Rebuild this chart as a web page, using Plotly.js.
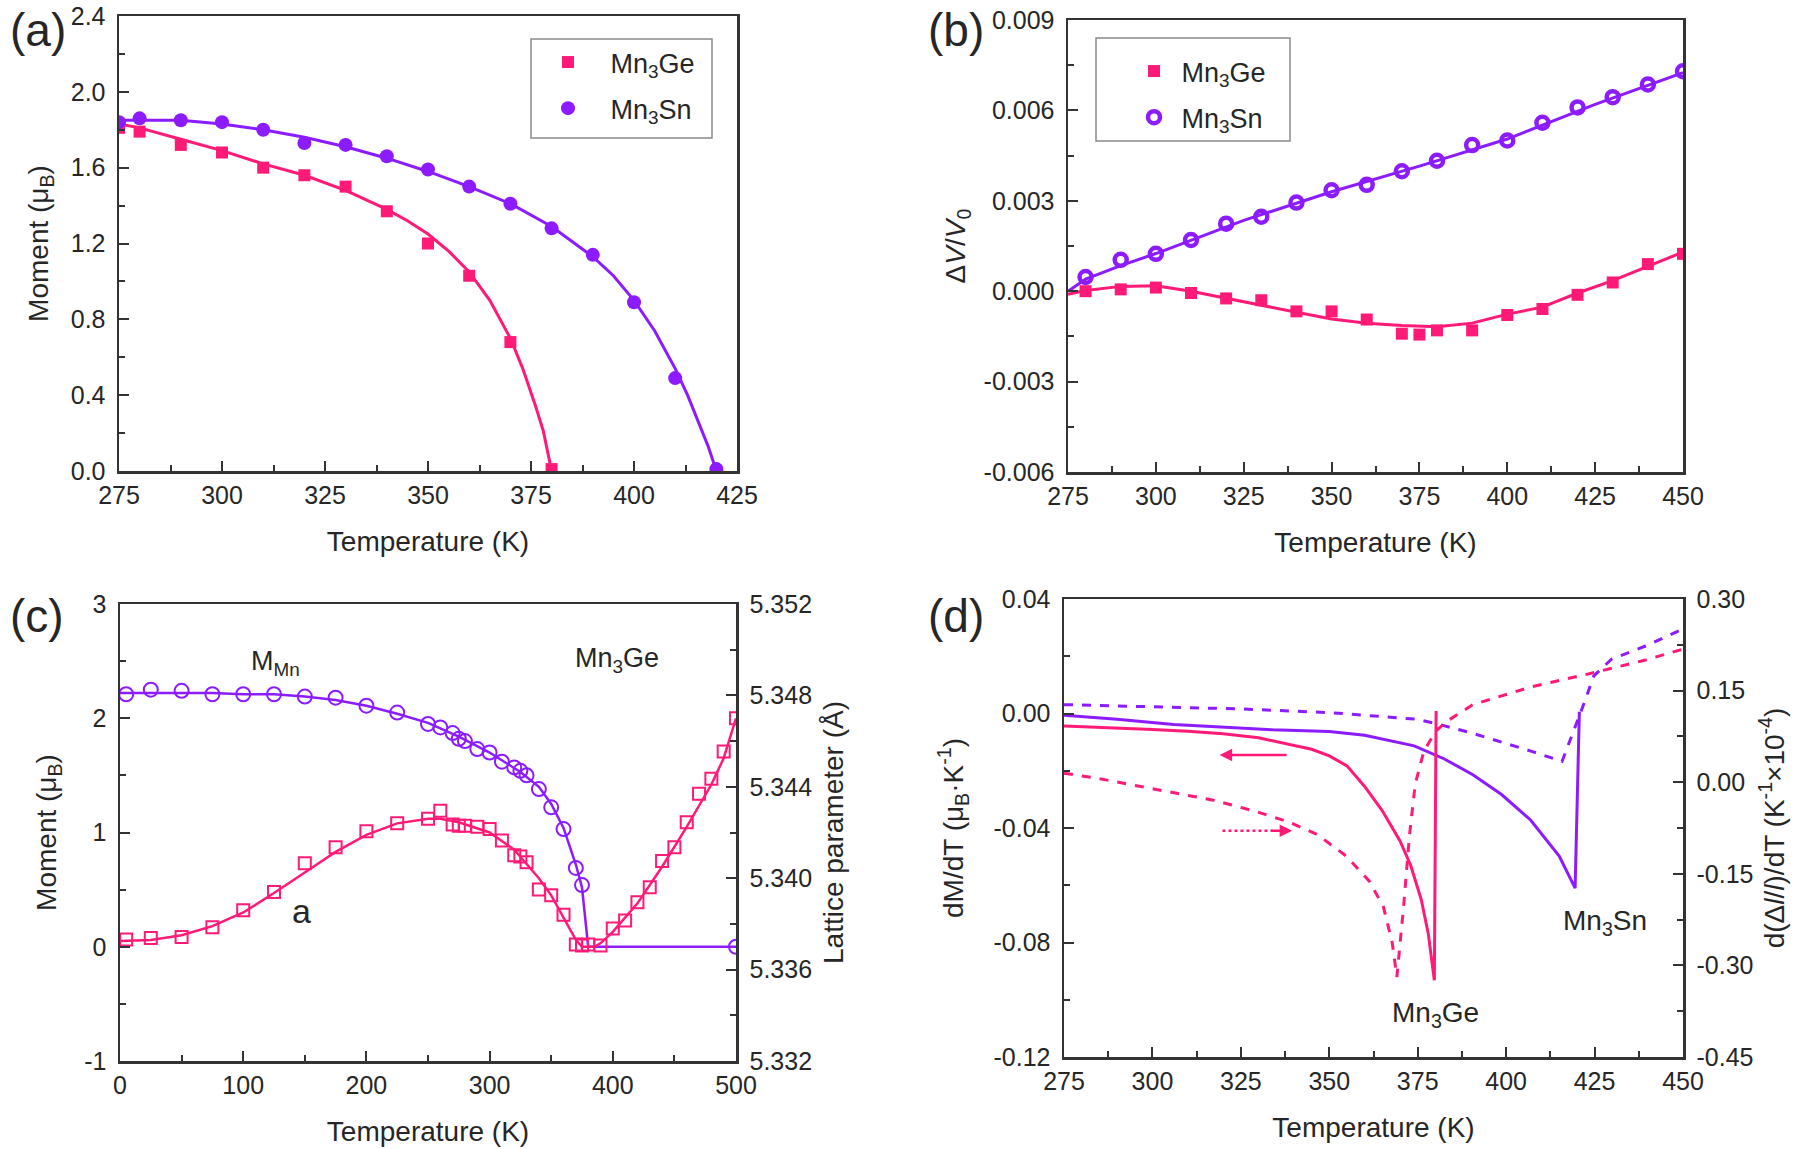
<!DOCTYPE html>
<html><head><meta charset="utf-8">
<script src="https://cdn.plot.ly/plotly-3.0.1.min.js"></script>
<style>html,body{margin:0;padding:0;background:#fff;}#chart{width:1800px;height:1149px;}</style>
</head><body><div id="chart"></div>
<script>
// ---------- Panel (a): moment vs temperature ----------
const aGeT = [275,280,290,300,310,320,330,340,350,360,370,380];
const aGeM = [1.81,1.79,1.72,1.68,1.60,1.56,1.50,1.37,1.20,1.03,0.68,0.01];
const aSnT = [275,280,290,300,310,320,330,340,350,360,370,380,390,400,410,420];
const aSnM = [1.84,1.86,1.85,1.84,1.80,1.73,1.72,1.66,1.59,1.50,1.41,1.28,1.14,0.89,0.49,0.01];
const aGeFitT = [275,280,290,300,310,320,330,340,345,350,355,360,365,370,373,376,378,380];
const aGeFitM = [1.83,1.81,1.75,1.69,1.62,1.56,1.48,1.38,1.32,1.25,1.16,1.05,0.90,0.70,0.54,0.35,0.21,0.0];
const aSnFitT = [275,280,290,300,310,320,330,340,350,360,370,380,390,395,400,405,410,413,416,418,420];
const aSnFitM = [1.85,1.85,1.85,1.83,1.80,1.76,1.71,1.65,1.58,1.50,1.41,1.29,1.13,1.03,0.90,0.74,0.54,0.40,0.24,0.13,0.0];

// ---------- Panel (b): volume change ----------
const bGeT = [280,290,300,310,320,330,340,350,360,370,375,380,390,400,410,420,430,440,450];
const bGeV = [0.00000,0.00006,0.00012,-0.00006,-0.00024,-0.00030,-0.00067,-0.00067,-0.00094,-0.00141,-0.00144,-0.00130,-0.00130,-0.00079,-0.00059,-0.00012,0.00029,0.00090,0.00124];
const bSnT = [280,290,300,310,320,330,340,350,360,370,380,390,400,410,420,430,440,450];
const bSnV = [0.00047,0.00104,0.00124,0.00170,0.00224,0.00247,0.00294,0.00335,0.00353,0.00398,0.00433,0.00485,0.00500,0.00559,0.00610,0.00644,0.00686,0.00730];
const bGeFitT = [275,280,290,300,310,320,330,340,350,360,370,380,390,400,410,420,430,440,450];
const bGeFitV = [-0.00010,0.00002,0.00016,0.00018,0.00000,-0.00024,-0.00047,-0.00070,-0.00092,-0.00106,-0.00114,-0.00118,-0.00106,-0.00076,-0.00053,-0.00006,0.00035,0.00082,0.00130];
const bSnFitT = [275,280,290,300,325,350,375,400,425,450];
const bSnFitV = [0.00000,0.00040,0.00085,0.00125,0.00235,0.00330,0.00415,0.00505,0.00620,0.00725];

// ---------- Panel (c): Mn3Ge moment and lattice parameter ----------
const cMT = [5,25,50,75,100,125,150,175,200,225,250,260,270,275,280,290,300,310,320,325,330,340,350,360,370,375,500];
const cM  = [2.21,2.25,2.24,2.21,2.21,2.21,2.19,2.18,2.11,2.05,1.95,1.92,1.87,1.82,1.80,1.73,1.70,1.62,1.57,1.54,1.50,1.38,1.22,1.03,0.69,0.54,0.00];
const cMFitT = [0,25,50,75,100,125,150,175,200,225,250,275,300,325,340,350,360,370,375,380,500];
const cMFit  = [2.22,2.22,2.22,2.22,2.21,2.21,2.19,2.16,2.11,2.04,1.96,1.84,1.70,1.53,1.40,1.25,1.04,0.72,0.52,0.00,0.00];
const cLT = [5,25,50,75,100,125,150,175,200,225,250,260,270,275,280,290,300,310,320,325,330,340,350,360,370,375,380,390,400,410,420,430,440,450,460,470,480,490,500];
const cL  = [5.33732,5.33738,5.33743,5.33785,5.33860,5.33940,5.34065,5.34135,5.34205,5.34240,5.34260,5.34295,5.34235,5.34230,5.34230,5.34225,5.34215,5.34165,5.34100,5.34095,5.34070,5.33950,5.33925,5.33840,5.33710,5.33705,5.33710,5.33705,5.33780,5.33815,5.33895,5.33960,5.34075,5.34135,5.34245,5.34370,5.34435,5.34555,5.34700];
const cLFitT = [0,25,50,75,100,125,150,175,200,225,250,260,275,300,320,340,350,360,370,375,385,390,400,420,440,460,480,490,500];
const cLFit  = [5.33725,5.33730,5.33750,5.33790,5.33850,5.33935,5.34025,5.34115,5.34190,5.34240,5.34260,5.34260,5.34245,5.34200,5.34125,5.34000,5.33925,5.33830,5.33730,5.33700,5.33700,5.33715,5.33765,5.33890,5.34050,5.34225,5.34410,5.34525,5.34700];

// ---------- Panel (d): derivatives ----------
const dGeT = [275,290,300,310,320,330,340,345,350,355,360,365,370,373,376,378,379.7,380.2];
const dGeV = [-0.0044,-0.0050,-0.0056,-0.0062,-0.0071,-0.0085,-0.0110,-0.0125,-0.0148,-0.0183,-0.0255,-0.0340,-0.0445,-0.0530,-0.0650,-0.0770,-0.0932,0.0009];
const dSnT = [275,290,306,324,334,350,360,374,382.4,390.6,398.7,406.9,415,419.5,420.7];
const dSnV = [-0.0006,-0.0020,-0.0038,-0.0050,-0.0057,-0.0063,-0.0076,-0.0113,-0.0158,-0.0214,-0.0283,-0.0372,-0.0498,-0.0610,0.0006];
const dSnET = [275,300,325,350,375,380.8,390.6,407,415.8,421.5,424.8,429.7,439.4,450];
const dSnE  = [0.127,0.124,0.120,0.114,0.103,0.095,0.080,0.051,0.034,0.121,0.174,0.201,0.223,0.251];
const dGeET = [275,284.8,301,317.3,328.7,338.5,346.6,354.8,361.3,365.3,367.8,369.1,371.0,372.7,374.3,376.7,380,383.3,390.6,407,423,439.4,450];
const dGeE  = [0.0148,0.006,-0.0118,-0.0295,-0.047,-0.065,-0.0856,-0.121,-0.162,-0.204,-0.263,-0.319,-0.204,-0.0856,-0.003,0.050,0.083,0.100,0.127,0.156,0.177,0.200,0.218];

// ---------- tick labels ----------
const aYTickVals = [0,0.4,0.8,1.2,1.6,2.0,2.4];
const aYTickText = ['0.0','0.4','0.8','1.2','1.6','2.0','2.4'];
const bYTickVals = [-0.006,-0.003,0,0.003,0.006,0.009];
const bYTickText = ['-0.006','-0.003','0.000','0.003','0.006','0.009'];
const cYTickVals = [-1,0,1,2,3];
const cYTickText = ['-1','0','1','2','3'];
const cY2TickVals = [5.332,5.336,5.340,5.344,5.348,5.352];
const cY2TickText = ['5.332','5.336','5.340','5.344','5.348','5.352'];
const dYTickVals = [-0.12,-0.08,-0.04,0,0.04];
const dYTickText = ['-0.12','-0.08','-0.04','0.00','0.04'];
const dY2TickVals = [-0.45,-0.30,-0.15,0,0.15,0.30];
const dY2TickText = ['-0.45','-0.30','-0.15','0.00','0.15','0.30'];

const PINK = '#ff1a78';
const PURPLE = '#8c1cff';
const FONT = 'Arial, "Liberation Sans", Helvetica, sans-serif';
const TXT = '#262626';
const W = 1800, H = 1149;
const px = v => v / W;
const py = v => 1 - v / H;

function axis(extra) {
  return Object.assign({
    showline: true, linecolor: '#333', linewidth: 2.5, mirror: true,
    ticks: 'inside', ticklen: 10, tickwidth: 2, tickcolor: '#333',
    showgrid: false, zeroline: false, automargin: false, fixedrange: true,
    ticklabelstandoff: 6,
    tickfont: {family: FONT, size: 25, color: TXT},
    minor: {ticks: 'inside', ticklen: 6, tickwidth: 2, tickcolor: '#333', showgrid: false}
  }, extra);
}
function ttl(text, standoff) {
  return {text: text, standoff: standoff, font: {family: FONT, size: 28, color: TXT}};
}

const traces = [
  // (a)
  {x: aGeFitT, y: aGeFitM, xaxis: 'x', yaxis: 'y', mode: 'lines', line: {color: PINK, width: 3}, showlegend: false, hoverinfo: 'skip'},
  {x: aSnFitT, y: aSnFitM, xaxis: 'x', yaxis: 'y', mode: 'lines', line: {color: PURPLE, width: 3}, showlegend: false, hoverinfo: 'skip'},
  {x: aGeT, y: aGeM, xaxis: 'x', yaxis: 'y', mode: 'markers', name: '\u00a0\u00a0\u00a0Mn<sub>3</sub>Ge', legend: 'legend', legendgroup: 'a1',
   marker: {symbol: 'square', size: 12, color: PINK}},
  {x: aSnT, y: aSnM, xaxis: 'x', yaxis: 'y', mode: 'markers', name: '\u00a0\u00a0\u00a0Mn<sub>3</sub>Sn', legend: 'legend', legendgroup: 'a2',
   marker: {symbol: 'circle', size: 14, color: PURPLE}},
  // (b)
  {x: bGeFitT, y: bGeFitV, xaxis: 'x2', yaxis: 'y2', mode: 'lines', line: {color: PINK, width: 3}, showlegend: false, hoverinfo: 'skip'},
  {x: bSnFitT, y: bSnFitV, xaxis: 'x2', yaxis: 'y2', mode: 'lines', line: {color: PURPLE, width: 3}, showlegend: false, hoverinfo: 'skip'},
  {x: bGeT, y: bGeV, xaxis: 'x2', yaxis: 'y2', mode: 'markers', name: '\u00a0Mn<sub>3</sub>Ge', legend: 'legend2', legendgroup: 'b1',
   marker: {symbol: 'square', size: 12, color: PINK}},
  {x: bSnT, y: bSnV, xaxis: 'x2', yaxis: 'y2', mode: 'markers', name: '\u00a0Mn<sub>3</sub>Sn', legend: 'legend2', legendgroup: 'b2',
   marker: {symbol: 'circle-open', size: 12, color: PURPLE, line: {width: 4.5, color: PURPLE}}},
  // (c)
  {x: cMFitT, y: cMFit, xaxis: 'x3', yaxis: 'y3', mode: 'lines', line: {color: PURPLE, width: 2.5}, showlegend: false, hoverinfo: 'skip'},
  {x: cMT, y: cM, xaxis: 'x3', yaxis: 'y3', mode: 'markers', showlegend: false,
   marker: {symbol: 'circle-open', size: 14, color: PURPLE, line: {width: 2, color: PURPLE}}},
  {x: cLFitT, y: cLFit, xaxis: 'x3', yaxis: 'y4', mode: 'lines', line: {color: PINK, width: 2.5}, showlegend: false, hoverinfo: 'skip'},
  {x: cLT, y: cL, xaxis: 'x3', yaxis: 'y4', mode: 'markers', showlegend: false,
   marker: {symbol: 'square-open', size: 12, color: PINK, line: {width: 2, color: PINK}}},
  // (d)
  {x: dSnET, y: dSnE, xaxis: 'x4', yaxis: 'y6', mode: 'lines', line: {color: PURPLE, width: 3, dash: 'dash'}, showlegend: false, hoverinfo: 'skip'},
  {x: dGeET, y: dGeE, xaxis: 'x4', yaxis: 'y6', mode: 'lines', line: {color: PINK, width: 3, dash: 'dash'}, showlegend: false, hoverinfo: 'skip'},
  {x: dSnT, y: dSnV, xaxis: 'x4', yaxis: 'y5', mode: 'lines', line: {color: PURPLE, width: 3}, showlegend: false, hoverinfo: 'skip'},
  {x: dGeT, y: dGeV, xaxis: 'x4', yaxis: 'y5', mode: 'lines', line: {color: PINK, width: 3}, showlegend: false, hoverinfo: 'skip'}
];

const legendStyle = {
  xanchor: 'left', yanchor: 'top', bgcolor: 'rgba(0,0,0,0)', borderwidth: 0,
  font: {family: FONT, size: 27, color: TXT}, traceorder: 'grouped', tracegroupgap: 8, itemwidth: 30
};

const xMinor = {ticks: 'inside', ticklen: 6, tickwidth: 2, tickcolor: '#333', dtick: 12.5, tick0: 275};

const layout = {
  width: W, height: H,
  margin: {l: 0, r: 0, t: 0, b: 0},
  paper_bgcolor: '#fff', plot_bgcolor: 'rgba(0,0,0,0)',
  font: {family: FONT, color: TXT},
  showlegend: true,
  legend: Object.assign({x: px(548), y: py(38)}, legendStyle),
  legend2: Object.assign({x: px(1134), y: py(47)}, legendStyle),
  // (a)
  xaxis: axis({domain: [px(119), px(737)], anchor: 'y', range: [275, 425], dtick: 25, tick0: 275, ticklabelstandoff: 0,
    minor: xMinor, title: ttl('Temperature (K)', 24)}),
  yaxis: axis({domain: [py(471), py(16)], anchor: 'x', range: [0, 2.4], tickmode: 'array', tickvals: aYTickVals, ticktext: aYTickText,
    minor: {ticks: 'inside', ticklen: 6, tickwidth: 2, tickcolor: '#333', dtick: 0.2, tick0: 0},
    title: ttl('Moment (μ<sub>B</sub>)', 14)}),
  // (b)
  xaxis2: axis({domain: [px(1068), px(1683)], anchor: 'y2', range: [275, 450], dtick: 25, tick0: 275, ticklabelstandoff: 0,
    minor: xMinor, title: ttl('Temperature (K)', 24)}),
  yaxis2: axis({domain: [py(472), py(20)], anchor: 'x2', range: [-0.006, 0.009], tickmode: 'array', tickvals: bYTickVals, ticktext: bYTickText,
    minor: {ticks: 'inside', ticklen: 6, tickwidth: 2, tickcolor: '#333', dtick: 0.0015, tick0: 0},
    title: ttl('Δ<i>V</i>/<i>V</i><sub>0</sub>', 10)}),
  // (c)
  xaxis3: axis({domain: [px(120), px(736)], anchor: 'y3', range: [0, 500], dtick: 100, tick0: 0, ticklabelstandoff: 0,
    minor: {ticks: 'inside', ticklen: 6, tickwidth: 2, tickcolor: '#333', dtick: 50, tick0: 0},
    title: ttl('Temperature (K)', 24)}),
  yaxis3: axis({domain: [py(1061), py(604)], anchor: 'x3', range: [-1, 3], tickmode: 'array', tickvals: cYTickVals, ticktext: cYTickText,
    minor: {ticks: 'inside', ticklen: 6, tickwidth: 2, tickcolor: '#333', dtick: 0.5, tick0: 0},
    title: ttl('Moment (μ<sub>B</sub>)', 20)}),
  yaxis4: axis({overlaying: 'y3', side: 'right', anchor: 'x3', mirror: false, range: [5.332, 5.352], tickmode: 'array', tickvals: cY2TickVals, ticktext: cY2TickText,
    minor: {ticks: 'inside', ticklen: 6, tickwidth: 2, tickcolor: '#333', dtick: 0.002, tick0: 5.332},
    title: ttl('Lattice parameter (Å)', 12)}),
  // (d)
  xaxis4: axis({domain: [px(1064), px(1683)], anchor: 'y5', range: [275, 450], dtick: 25, tick0: 275, ticklabelstandoff: 0,
    minor: xMinor, title: ttl('Temperature (K)', 24)}),
  yaxis5: axis({domain: [py(1057), py(599)], anchor: 'x4', range: [-0.12, 0.04], tickmode: 'array', tickvals: dYTickVals, ticktext: dYTickText,
    minor: {ticks: 'inside', ticklen: 6, tickwidth: 2, tickcolor: '#333', dtick: 0.02, tick0: 0},
    title: ttl('dM/dT (μ<sub>B</sub>·K<sup>-1</sup>)', 22)}),
  yaxis6: axis({overlaying: 'y5', side: 'right', anchor: 'x4', mirror: false, range: [-0.45, 0.30], tickmode: 'array', tickvals: dY2TickVals, ticktext: dY2TickText,
    minor: {ticks: 'inside', ticklen: 6, tickwidth: 2, tickcolor: '#333', dtick: 0.075, tick0: 0},
    title: ttl('d(Δ<i>l</i>/<i>l</i>)/dT (K<sup>-1</sup>×10<sup>-4</sup>)', 12)}),
  shapes: [
    {type: 'rect', xref: 'paper', yref: 'paper', x0: px(531), x1: px(712), y0: py(138), y1: py(39), line: {color: '#8a8a8a', width: 1.5}},
    {type: 'rect', xref: 'paper', yref: 'paper', x0: px(1096), x1: px(1290), y0: py(141), y1: py(38), line: {color: '#8a8a8a', width: 1.5}},
    {type: 'line', xref: 'x4', yref: 'y5', x0: 319.8, x1: 334, y0: -0.041, y1: -0.041, line: {color: PINK, width: 2.5, dash: 'dot'}}
  ],
  annotations: [
    {text: '(a)', xref: 'paper', yref: 'paper', x: px(8), y: py(2), xanchor: 'left', yanchor: 'top', showarrow: false, font: {family: FONT, size: 46, color: TXT}},
    {text: '(b)', xref: 'paper', yref: 'paper', x: px(926), y: py(2), xanchor: 'left', yanchor: 'top', showarrow: false, font: {family: FONT, size: 46, color: TXT}},
    {text: '(c)', xref: 'paper', yref: 'paper', x: px(8), y: py(588), xanchor: 'left', yanchor: 'top', showarrow: false, font: {family: FONT, size: 46, color: TXT}},
    {text: '(d)', xref: 'paper', yref: 'paper', x: px(926), y: py(588), xanchor: 'left', yanchor: 'top', showarrow: false, font: {family: FONT, size: 46, color: TXT}},
    {text: 'M<sub>Mn</sub>', xref: 'x3', yref: 'y3', x: 126, y: 2.48, showarrow: false, font: {family: FONT, size: 27, color: TXT}},
    {text: 'Mn<sub>3</sub>Ge', xref: 'x3', yref: 'y3', x: 403, y: 2.51, showarrow: false, font: {family: FONT, size: 27, color: TXT}},
    {text: 'a', xref: 'x3', yref: 'y3', x: 147, y: 0.31, showarrow: false, font: {family: FONT, size: 34, color: TXT}},
    {text: 'Mn<sub>3</sub>Ge', xref: 'x4', yref: 'y5', x: 380, y: -0.105, showarrow: false, font: {family: FONT, size: 28, color: TXT}},
    {text: 'Mn<sub>3</sub>Sn', xref: 'x4', yref: 'y5', x: 428, y: -0.073, showarrow: false, font: {family: FONT, size: 28, color: TXT}},
    {text: ' ', xref: 'x4', yref: 'y5', axref: 'x4', ayref: 'y5', x: 319, y: -0.0145, ax: 338.5, ay: -0.0145,
     showarrow: true, arrowhead: 2, arrowsize: 1, arrowwidth: 2.5, arrowcolor: PINK, font: {size: 2}},
    {text: ' ', xref: 'x4', yref: 'y5', axref: 'x4', ayref: 'y5', x: 339.5, y: -0.041, ax: 333, ay: -0.041,
     showarrow: true, arrowhead: 2, arrowsize: 1, arrowwidth: 2.5, arrowcolor: PINK, font: {size: 2}}
  ]
};

Plotly.newPlot('chart', traces, layout, {staticPlot: true, displayModeBar: false});
</script>
</body></html>
